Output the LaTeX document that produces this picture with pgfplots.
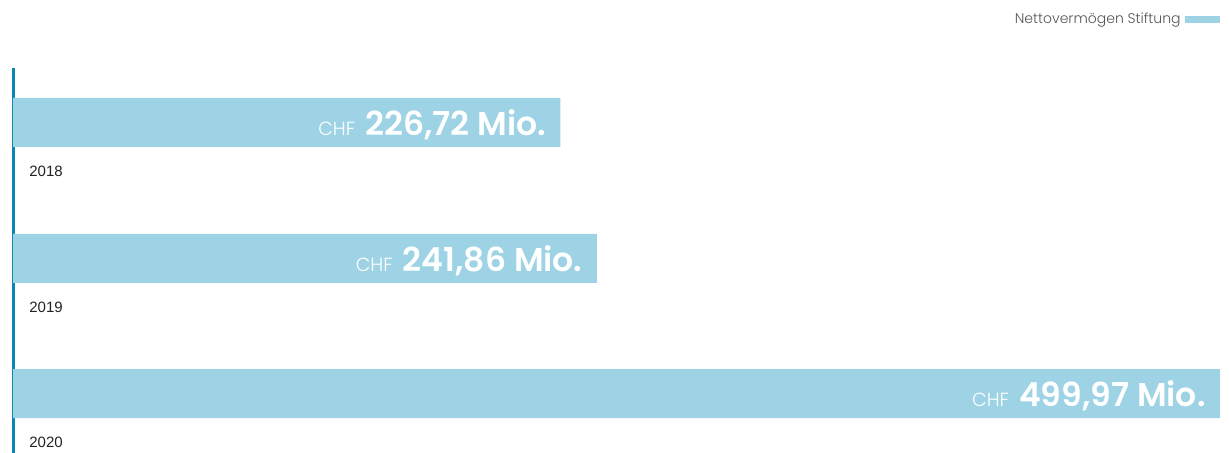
\documentclass[border=0pt]{standalone}
\usepackage{pgfplots}
\pgfplotsset{compat=1.18}
\usepackage{fontspec}
\setmainfont{Liberation Sans}
\newfontfamily\poplight{Poppins Light}
\newfontfamily\popsemi{Poppins SemiBold}
\definecolor{barblue}{HTML}{9ED3E6}
\definecolor{axisblue}{HTML}{0A86B3}
\definecolor{leggrey}{HTML}{555555}
\definecolor{yeartext}{HTML}{222222}
\begin{document}
\begin{tikzpicture}
\path[use as bounding box] (0,0) rectangle (614.5pt,-226.5pt);
\begin{axis}[
  at={(6.5pt,-226.5pt)}, anchor=south west,
  scale only axis, width=608pt, height=192.5pt,
  xmin=0, xmax=503.7,
  ymin=68, ymax=453, y dir=reverse,
  xbar, bar width=24.5pt,
  axis x line=none,
  axis y line=left,
  y axis line style={-, draw=axisblue, line width=1.5pt},
  ytick=\empty, xtick=\empty,
  clip=false,
  point meta=explicit symbolic,
  nodes near coords={\fontsize{9.5}{10}\selectfont\poplight CHF\hspace{5pt}\fontsize{16.5}{18}\selectfont\popsemi\pgfplotspointmeta\ Mio.},
  every node near coord/.append style={anchor=east, xshift=-7pt, yshift=-1pt, text=white, inner sep=0pt},
  legend style={at={(rel axis cs:0.9926,1.125)}, anchor=east, draw=none, fill=none,
    font=\fontsize{7}{9}\selectfont\poplight, text=leggrey, inner sep=0pt},
  legend plot pos=right,
  legend image code/.code={\fill[barblue] (2.5pt,-1.8pt) rectangle (20pt,1.8pt);},
]
\addplot[fill=barblue, draw=none] coordinates {
  (226.72,122.5) [226,72]
  (241.86,258.5) [241,86]
  (499.97,393.5) [499,97]
};
\addlegendentry{Nettovermögen Stiftung}
\node[anchor=west, inner sep=0pt, text=yeartext, font=\fontsize{7.5}{9}\selectfont] at (axis cs:0,171.5) [xshift=8pt] {2018};
\node[anchor=west, inner sep=0pt, text=yeartext, font=\fontsize{7.5}{9}\selectfont] at (axis cs:0,307.5) [xshift=8pt] {2019};
\node[anchor=west, inner sep=0pt, text=yeartext, font=\fontsize{7.5}{9}\selectfont] at (axis cs:0,442.5) [xshift=8pt] {2020};
\end{axis}
\end{tikzpicture}
\end{document}
